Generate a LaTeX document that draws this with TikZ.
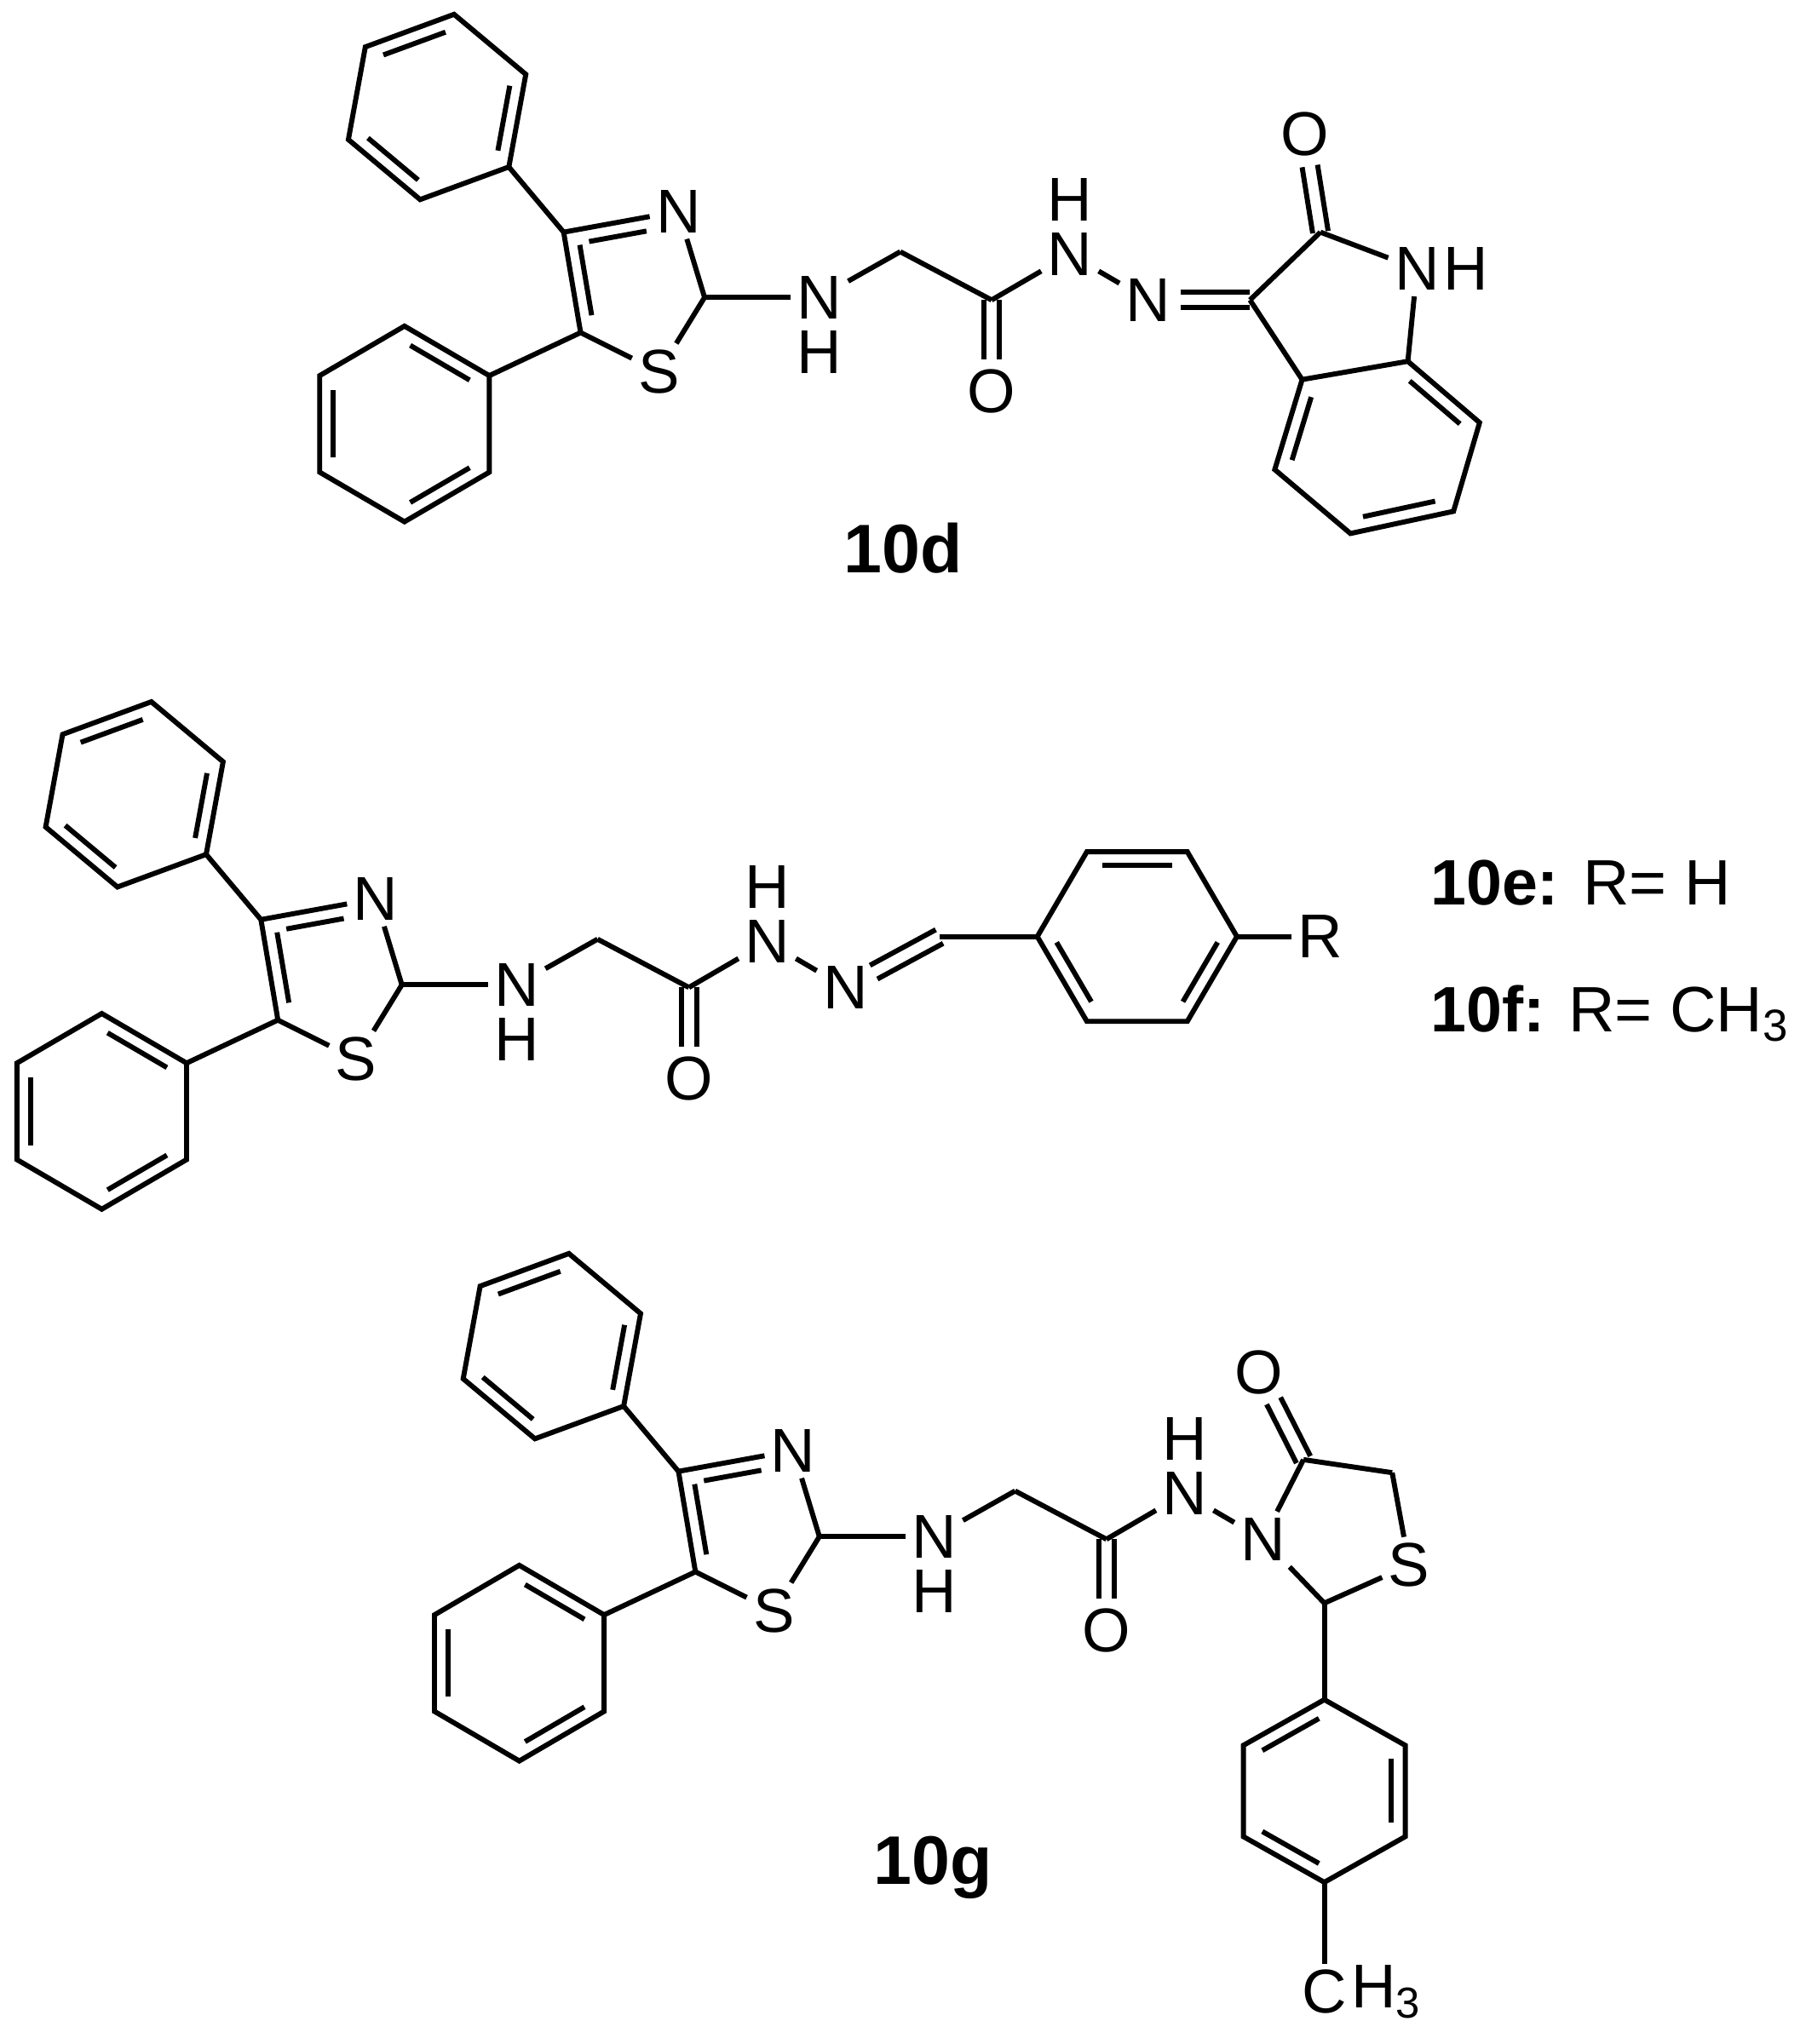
\documentclass[tikz,border=0pt]{standalone}
\usepackage{fontspec}
\setmainfont{Liberation Sans}
\usetikzlibrary{calc}
\tikzset{lab/.style={inner sep=1.2pt,font=\fontsize{13.5}{14}\selectfont},
 bond/.style={line width=1.1pt},
 cpd/.style={font=\fontsize{15}{16}\selectfont\bfseries}}
\newcommand\ib[5]{\ifnum#3>0 \def\angb{270}\else\def\angb{90}\fi
 \draw[bond] ($(#1)!#4!(#2)!3pt!#3:(#2)$) -- ($(#2)!#5!(#1)!3pt!\angb:(#1)$);}
\newcommand\dbl[3][]{\draw[bond,#1] ($(#2)!1.7pt!90:(#3)$) -- ($(#3)!1.7pt!270:(#2)$);
 \draw[bond,#1] ($(#2)!1.7pt!270:(#3)$) -- ($(#3)!1.7pt!90:(#2)$);}
\newcommand\thz[1]{%
 \coordinate (#1p1) at (390,128); \coordinate (#1p2) at (322,153);
 \coordinate (#1p3) at (267,107); \coordinate (#1p4) at (280,36);
 \coordinate (#1p5) at (348,11);  \coordinate (#1p6) at (403,57);
 \coordinate (#1q1) at (375,288); \coordinate (#1q2) at (375,362);
 \coordinate (#1q3) at (310,400); \coordinate (#1q4) at (245,362);
 \coordinate (#1q5) at (245,288); \coordinate (#1q6) at (310,250);
 \coordinate (#1c4) at (432,178); \coordinate (#1c5) at (445,255);
 \coordinate (#1c2) at (540,228); \coordinate (#1ch2) at (690,193);
 \coordinate (#1cc) at (760,230);
 \node[lab] (#1n3) at (520,162) {N};
 \node[lab] (#1s1) at (505,285) {S};
 \node[lab] (#1nh) at (628,228) {N};
 \node[lab] (#1nhH) at (628,270) {H};
 \node[lab] (#1o) at (760,300) {O};
 \node[lab] (#1na) at (820,195) {N};
 \node[lab] (#1naH) at (820,153) {H};
 \node[lab] (#1nb) at (880,230) {N};
 \draw[bond] (#1p1)--(#1p2)--(#1p3)--(#1p4)--(#1p5)--(#1p6)--cycle;
 \ib{#1p2}{#1p3}{-90}{0.15}{0.15}\ib{#1p4}{#1p5}{-90}{0.15}{0.15}\ib{#1p6}{#1p1}{-90}{0.15}{0.15}
 \draw[bond] (#1q1)--(#1q2)--(#1q3)--(#1q4)--(#1q5)--(#1q6)--cycle;
 \ib{#1q2}{#1q3}{-90}{0.15}{0.15}\ib{#1q4}{#1q5}{-90}{0.15}{0.15}\ib{#1q6}{#1q1}{-90}{0.15}{0.15}
 \draw[bond] (#1c4)--(#1p1); \draw[bond] (#1c5)--(#1q1);
 \draw[bond] (#1c4)--(#1n3); \draw[bond] (#1n3)--(#1c2);
 \draw[bond] (#1c2)--(#1s1); \draw[bond] (#1s1)--(#1c5); \draw[bond] (#1c5)--(#1c4);
 \ib{#1c5}{#1c4}{-90}{0.15}{0.15}\ib{#1c4}{#1n3}{-90}{0.2}{0.3}
 \draw[bond] (#1c2)--(#1nh); \draw[bond] (#1nh)--(#1ch2); \draw[bond] (#1ch2)--(#1cc);
 \draw[bond] (#1cc)--(#1na); \draw[bond] (#1na)--(#1nb);
 \dbl[shorten >=7pt]{#1cc}{#1o}}
\begin{document}
\begin{tikzpicture}[x=0.1mm,y=-0.1mm]
\useasboundingbox (0,0) rectangle (1384,1567);
% ---- 10d
\thz{d}
\coordinate (c3) at (958,230); \coordinate (c2i) at (1012,178);
\coordinate (c7a) at (1079,277); \coordinate (c3a) at (998,291);
\coordinate (b4) at (977,360); \coordinate (b5) at (1035,409);
\coordinate (b6) at (1114,392); \coordinate (b7) at (1134,324);
\node[lab] (n1) at (1086,206) {N};
\node[lab,anchor=west,inner sep=0pt] (n1H) at ([xshift=-0.6pt]n1.east) {H};
\node[lab] (oi) at (1000,103) {O};
\dbl[shorten <=7pt]{dnb}{c3}
\draw[bond] (c3)--(c2i); \draw[bond] (c2i)--(n1); \draw[bond] (n1)--(c7a);
\dbl[shorten >=7pt]{c2i}{oi}
\draw[bond] (c3)--(c3a);
\draw[bond] (c3a)--(b4)--(b5)--(b6)--(b7)--(c7a)--cycle;
\ib{c3a}{b4}{90}{0.15}{0.15}\ib{b5}{b6}{90}{0.15}{0.15}\ib{b7}{c7a}{90}{0.15}{0.15}
\node[cpd] (l10d) at (692,420) {10d};
% ---- 10e/f
\begin{scope}[shift={(-232,527)}]
\thz{e}
\end{scope}
\coordinate (ch) at (720,718);
\coordinate (r1) at (795,718); \coordinate (r2) at (833,653);
\coordinate (r3) at (910,653); \coordinate (r4) at (948,718);
\coordinate (r5) at (910,783); \coordinate (r6) at (833,783);
\node[lab] (rr) at (1012,718) {R};
\dbl[shorten <=7pt]{enb}{ch}
\draw[bond] (ch)--(r1);
\draw[bond] (r1)--(r2)--(r3)--(r4)--(r5)--(r6)--cycle;
\ib{r2}{r3}{-90}{0.15}{0.15}\ib{r4}{r5}{-90}{0.15}{0.15}\ib{r6}{r1}{-90}{0.15}{0.15}
\draw[bond] (r4)--(rr);
\node[anchor=west,font=\fontsize{14}{15}\selectfont] (l10e) at (1084,677) {\textbf{10e:} R= H};
\node[anchor=west,font=\fontsize{14}{15}\selectfont] (l10f) at (1084,777) {\textbf{10f:} R= CH\textsubscript{3}};
% ---- 10g
\begin{scope}[shift={(88,950)}]
\thz{g}
\end{scope}
\coordinate (c4t) at (999,1119); \coordinate (ch2t) at (1067,1129);
\coordinate (c2t) at (1015,1229);
\node[lab] (ot) at (965,1052) {O};
\node[lab] (st) at (1080,1200) {S};
\coordinate (t1) at (1015,1303); \coordinate (t2) at (1077,1338);
\coordinate (t3) at (1077,1408); \coordinate (t4) at (1015,1443);
\coordinate (t5) at (953,1408); \coordinate (t6) at (953,1338);
\node[lab] (mc) at (1015,1527) {C};
\node[lab,anchor=west,inner sep=0pt] (mh) at ([xshift=-0.6pt]mc.east) {H\textsubscript{3}};
\draw[bond] (gnb)--(c4t); \dbl[shorten >=7pt]{c4t}{ot}
\draw[bond] (c4t)--(ch2t); \draw[bond] (ch2t)--(st); \draw[bond] (st)--(c2t);
\draw[bond] (c2t)--(gnb); \draw[bond] (c2t)--(t1);
\draw[bond] (t1)--(t2)--(t3)--(t4)--(t5)--(t6)--cycle;
\ib{t6}{t1}{-90}{0.15}{0.15}\ib{t2}{t3}{-90}{0.15}{0.15}\ib{t4}{t5}{-90}{0.15}{0.15}
\draw[bond] (t4)--(mc);
\node[cpd] (l10g) at (715,1432) {10g};
\end{tikzpicture}
\end{document}
